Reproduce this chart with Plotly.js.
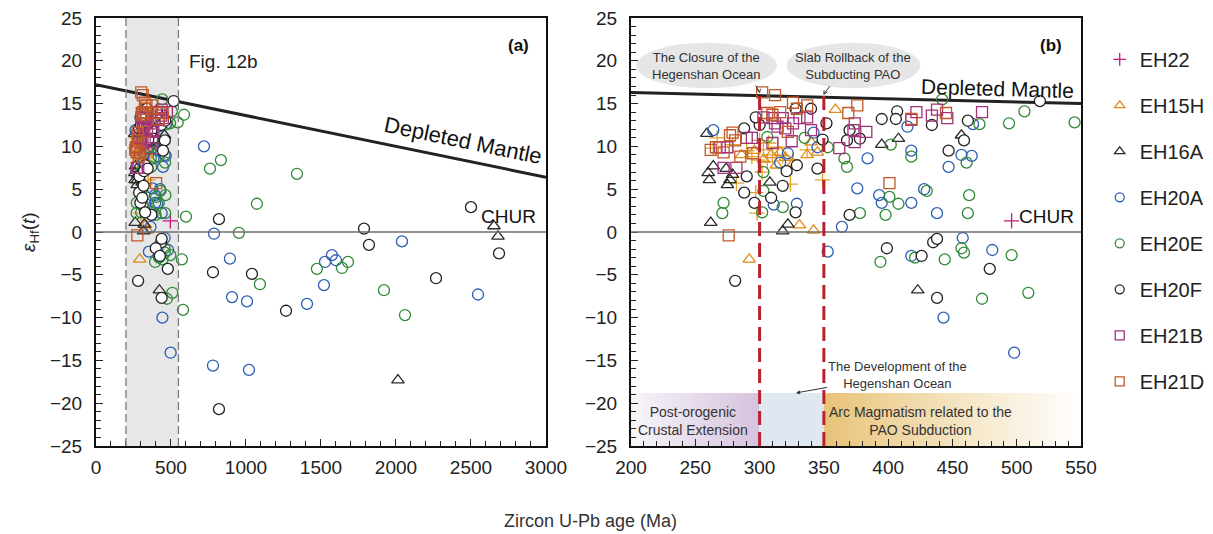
<!DOCTYPE html>
<html><head><meta charset="utf-8">
<script src="https://cdn.plot.ly/plotly-3.0.1.min.js"></script>
<style>body{margin:0;background:#fff}#chart{width:1213px;height:534px}</style>
</head><body><div id="chart"></div>
<script>
// ---------- data: zircon U-Pb age (Ma) and eHf(t) per sample ----------
const EH22_age = [496];
const EH22_eps = [1.3];

const EH15H_age = [359, 337, 345, 331, 342, 292, 296, 303, 309, 316, 320, 326, 340, 286, 313];
const EH15H_eps = [14.3, 9.0, 9.3, 0.8, 0.2, -3.2, 9.5, 8.5, 9.0, 9.3, 8.7, 8.0, 10.5, 9.0, 7.8];
// EH15H points drawn with a "+" glyph in the original figure
const EH15Hp_age = [267, 264, 279, 282, 294, 299, 303, 306, 310, 314, 307, 297, 298, 324, 349, 337, 326, 300, 302, 290, 318];
const EH15Hp_eps = [11.0, 9.8, 10.2, 5.7, 8.8, 8.4, 9.6, 8.2, 9.0, 9.9, 10.4, 4.6, 2.2, 5.6, 6.1, 9.6, 8.4, 10.7, 7.0, 9.5, 8.9];

const EH16A_age = [264, 260, 261, 274, 277, 275, 262, 308, 318, 322, 259, 395, 408, 457, 423, 279, 2653, 2680, 2013];
const EH16A_eps = [7.7, 6.9, 6.1, 7.4, 6.1, 5.5, 1.1, 5.8, 0.1, 0.9, 11.5, 10.2, 10.9, 11.3, -6.8, 6.7, 0.7, -0.5, -17.3];

const EH20A_age = [264, 415, 466, 384, 418, 457, 465, 447, 376, 393, 395, 418, 428, 438, 364, 458, 481, 418, 353, 443, 498, 316, 329, 311, 342, 322, 345,
  720, 787, 893, 907, 1007, 780, 1020, 1527, 1573, 1600, 1520, 1407, 2040, 2547];
const EH20A_eps = [11.9, 12.3, 12.6, 8.6, 9.5, 9.0, 8.9, 7.6, 5.1, 4.3, 3.4, 3.4, 5.0, 2.2, 0.6, -0.7, -2.1, -2.8, -2.3, -10.0, -14.1, 8.1, 3.3, 3.2, 11.6, 9.2, 9.9,
  10.0, -0.2, -3.1, -7.6, -8.1, -15.6, -16.1, -3.5, -2.7, -3.3, -6.2, -8.4, -1.1, -7.3];

const EH20E_age = [442, 506, 494, 545, 471, 402, 366, 368, 418, 461, 401, 408, 430, 463, 378, 398, 462, 457, 459, 394, 421, 444, 496, 473, 509, 272, 271, 303, 318, 303, 306, 335, 353, 302,
  587, 760, 833, 1340, 1073, 600, 953, 573, 1093, 1473, 1640, 1680, 1920, 580, 2060];
const EH20E_eps = [15.5, 14.1, 12.7, 12.8, 12.6, 10.2, 8.6, 7.6, 8.8, 8.1, 4.1, 3.3, 4.8, 4.3, 2.2, 2.0, 2.2, -1.9, -2.4, -3.5, -3.0, -3.2, -2.7, -7.8, -7.1, 3.4, 2.2, 4.8, 2.9, 7.0, 11.1, 11.0, 9.9, 2.3,
  13.7, 7.4, 8.4, 6.8, 3.3, 1.8, -0.1, -3.2, -6.1, -4.3, -4.2, -3.5, -6.8, -9.1, -9.7];

const EH20F_age = [518, 407, 395, 406, 434, 462, 370, 368, 378, 459, 447, 370, 435, 438, 399, 426, 479, 438, 288, 300, 328, 340, 352, 349, 290, 288, 296, 309, 318, 329, 321, 328, 345, 297, 281,
  820, 1787, 1820, 780, 1040, 1267, 820, 2500, 2687, 2267];
const EH20F_eps = [15.3, 14.1, 13.2, 13.2, 12.5, 13.0, 11.9, 10.7, 10.9, 10.7, 9.5, 2.0, -1.2, -0.8, -1.9, -2.8, -4.3, -7.7, 12.1, 12.5, 14.4, 14.4, 12.7, 10.8, 6.5, 4.6, 3.4, 4.0, 5.4, 7.8, 7.1, 2.3, 7.4, 13.4, -5.7,
  1.5, 0.4, -1.5, -4.7, -4.9, -9.2, -20.7, 2.9, -2.5, -5.4];

const EH21B_age = [473, 422, 438, 446, 418, 434, 374, 383, 374, 362, 269, 275, 290, 294, 272, 282, 310, 318, 326, 337, 340, 314, 320, 310, 325, 373, 303, 312, 331];
const EH21B_eps = [14.0, 14.0, 14.3, 13.3, 13.1, 13.6, 12.7, 11.7, 10.5, 9.8, 9.9, 9.9, 11.0, 11.0, 7.5, 7.5, 13.3, 13.3, 12.7, 13.4, 11.9, 12.3, 12.1, 10.4, 10.6, 11.9, 13.4, 12.7, 13.3];

const EH21D_age = [302, 312, 326, 337, 306, 316, 369, 281, 266, 262, 279, 285, 276, 310, 329, 295, 376, 445, 418, 401, 277, 272, 322];
const EH21D_eps = [16.3, 16.0, 15.1, 14.8, 13.9, 14.0, 13.9, 10.7, 9.9, 9.6, 11.6, 8.8, -0.4, 13.7, 14.4, 9.2, 14.8, 13.9, 13.2, 5.7, 11.3, 9.3, 11.7];

// Depleted mantle evolution line, read at the panel edges
const DMa_age = [0, 3000];
const DMa_eps = [17.2, 6.4];
const DMb_age = [200, 550];
const DMb_eps = [16.3, 15.0];

// Tectonic stage boundaries (Ma) for panel (b)
const stageBounds = [200, 300, 350, 550];
const stageLabels = ['Post-orogenic<br>Crustal Extension', 'Arc Magmatism related to the<br>PAO Subduction'];
const figBRange = [200, 550];

// ---------- styles ----------
const FONT = 'Liberation Sans, Arial, sans-serif';
const styles = {
  EH22:  {symbol: 'cross-thin-open', color: '#c4177f', size: 11},
  EH15H: {symbol: 'triangle-up-open', color: '#e08c1a', size: 11},
  EH16A: {symbol: 'triangle-up-open', color: '#2a2a2a', size: 11},
  EH20A: {symbol: 'circle-open', color: '#2c5db5', size: 11},
  EH20E: {symbol: 'circle-open', color: '#2f8a35', size: 11},
  EH20F: {symbol: 'circle', color: '#222222', size: 11, fill: '#ffffff'},
  EH21B: {symbol: 'square-open', color: '#a1327a', size: 11},
  EH21D: {symbol: 'square-open', color: '#c1582a', size: 11}
};
const series = [
  ['EH22', EH22_age, EH22_eps],
  ['EH15H', EH15H_age, EH15H_eps],
  ['EH16A', EH16A_age, EH16A_eps],
  ['EH20A', EH20A_age, EH20A_eps],
  ['EH20E', EH20E_age, EH20E_eps],
  ['EH20F', EH20F_age, EH20F_eps],
  ['EH21B', EH21B_age, EH21B_eps],
  ['EH21D', EH21D_age, EH21D_eps]
];

function markerOf(s, size) {
  const sz = size || s.size;
  if (s.fill) return {symbol: s.symbol, size: sz, color: s.fill, line: {color: s.color, width: 1.3}};
  return {symbol: s.symbol, size: sz, color: s.color, line: {width: 1.3}};
}

const data = [];
// stage bands (panel b)
const bandTop = -18.8, bandBot = -25;
data.push({type:'scatter', mode:'lines', xaxis:'x2', yaxis:'y2', showlegend:false, hoverinfo:'skip',
  x:[stageBounds[0], stageBounds[1], stageBounds[1], stageBounds[0], stageBounds[0]], y:[bandBot, bandBot, bandTop, bandTop, bandBot],
  fill:'toself', line:{width:0}, fillcolor:'#e2d8e8',
  fillgradient:{type:'horizontal', colorscale:[[0,'#f7f5fa'],[1,'#d6c2dd']]}});
data.push({type:'scatter', mode:'lines', xaxis:'x2', yaxis:'y2', showlegend:false, hoverinfo:'skip',
  x:[stageBounds[1], stageBounds[2], stageBounds[2], stageBounds[1], stageBounds[1]], y:[bandBot, bandBot, bandTop, bandTop, bandBot],
  fill:'toself', line:{width:0}, fillcolor:'#dfe7f1'});
data.push({type:'scatter', mode:'lines', xaxis:'x2', yaxis:'y2', showlegend:false, hoverinfo:'skip',
  x:[stageBounds[2], stageBounds[3], stageBounds[3], stageBounds[2], stageBounds[2]], y:[bandBot, bandBot, bandTop, bandTop, bandBot],
  fill:'toself', line:{width:0}, fillcolor:'#f0dcaa',
  fillgradient:{type:'horizontal', colorscale:[[0,'#e8c378'],[0.55,'#f5e6c6'],[1,'#ffffff']]}});

// depleted mantle lines
data.push({type:'scatter', mode:'lines', x:DMa_age, y:DMa_eps, xaxis:'x', yaxis:'y', showlegend:false, hoverinfo:'skip', line:{color:'#222', width:3}});
data.push({type:'scatter', mode:'lines', x:DMb_age, y:DMb_eps, xaxis:'x2', yaxis:'y2', showlegend:false, hoverinfo:'skip', line:{color:'#222', width:3}});

// sample markers, both panels
const plusStyle = {symbol:'cross-thin-open', color:'#e3a12a', size:11};
for (const [name, ages, eps] of series) {
  const s = styles[name];
  data.push({type:'scatter', mode:'markers', name, legendgroup:name, showlegend:false, x:ages, y:eps, xaxis:'x', yaxis:'y', marker:markerOf(s)});
  if (name === 'EH15H') {
    data.push({type:'scatter', mode:'markers', name, legendgroup:name, showlegend:false, x:EH15Hp_age, y:EH15Hp_eps, xaxis:'x', yaxis:'y', marker:markerOf(plusStyle)});
    data.push({type:'scatter', mode:'markers', name, legendgroup:name, showlegend:false, x:EH15Hp_age, y:EH15Hp_eps, xaxis:'x2', yaxis:'y2', marker:markerOf(plusStyle)});
  }
  data.push({type:'scatter', mode:'markers', name, legendgroup:name, showlegend:false, x:ages, y:eps, xaxis:'x2', yaxis:'y2', marker:markerOf(s)});
}
// legend entries (smaller glyphs, as in the original legend)
for (const [name] of series) {
  data.push({type:'scatter', mode:'markers', name, legendgroup:name, showlegend:true, x:[null], y:[null], xaxis:'x2', yaxis:'y2',
    marker:markerOf(styles[name], 9), hoverinfo:'skip'});
}

const tickFont = {family: FONT, size: 19, color: '#222'};
function xax(domain, range, dtick, minor) {
  return {domain, range, dtick, tick0: 0, ticks:'inside', ticklen:7, tickwidth:1.2, tickcolor:'#222',
    minor:{ticks:'inside', dtick:minor, ticklen:5, tickwidth:1, tickcolor:'#222'},
    showline:true, mirror:true, linecolor:'#111', linewidth:2, showgrid:false, zeroline:false, tickfont:tickFont, ticklabelstandoff:3};
}
function yax(anchor) {
  return {anchor, range:[-25,25], dtick:5, ticks:'inside', ticklen:7, tickwidth:1.2, tickcolor:'#222',
    minor:{ticks:'inside', dtick:1, ticklen:5, tickwidth:1, tickcolor:'#222'},
    showline:true, mirror:true, linecolor:'#111', linewidth:2, showgrid:false, zeroline:false, tickfont:tickFont, ticklabelstandoff:8};
}

const shapes = [
  // Fig. 12b window in panel (a)
  {type:'rect', xref:'x', yref:'y', x0:figBRange[0], x1:figBRange[1], y0:-25, y1:25, fillcolor:'#e7e7e7', line:{width:0}, layer:'below'},
  {type:'line', xref:'x', yref:'y', x0:figBRange[0], x1:figBRange[0], y0:-25, y1:25, line:{color:'#7a7a7a', width:1.3, dash:'8px,4px'}},
  {type:'line', xref:'x', yref:'y', x0:figBRange[1], x1:figBRange[1], y0:-25, y1:25, line:{color:'#7a7a7a', width:1.3, dash:'8px,4px'}},
  // CHUR
  {type:'line', xref:'x', yref:'y', x0:0, x1:3000, y0:0, y1:0, line:{color:'#6e6e6e', width:1.3}},
  {type:'line', xref:'x2', yref:'y2', x0:200, x1:550, y0:0, y1:0, line:{color:'#6e6e6e', width:1.3}},
  // label ellipses
  {type:'circle', xref:'x2', yref:'y2', x0:204, x1:313.5, y0:16.8, y1:22.1, fillcolor:'#e6e6e6', line:{width:0}, layer:'below'},
  {type:'circle', xref:'x2', yref:'y2', x0:321, x1:425, y0:16.8, y1:22.1, fillcolor:'#e6e6e6', line:{width:0}, layer:'below'},
  // stage boundaries
  {type:'line', xref:'x2', yref:'y2', x0:stageBounds[1], x1:stageBounds[1], y0:-25, y1:16.2, line:{color:'#b8222f', width:3, dash:'14px,7px'}},
  {type:'line', xref:'x2', yref:'y2', x0:stageBounds[2], x1:stageBounds[2], y0:-25, y1:16.0, line:{color:'#b8222f', width:3, dash:'14px,7px'}},
  // small leader arrows from the ellipses to the boundaries
  {type:'line', xref:'x2', yref:'y2', xsizemode:'pixel', ysizemode:'pixel', xanchor:stageBounds[1], yanchor:16.3, x0:-4, y0:7, x1:0, y1:0, line:{color:'#333', width:1}},
  {type:'path', xref:'x2', yref:'y2', xsizemode:'pixel', ysizemode:'pixel', xanchor:stageBounds[1], yanchor:16.3, path:'M -2.6 3.4 L 0 0 L 0.8 3.6', line:{color:'#333', width:1}},
  {type:'line', xref:'x2', yref:'y2', xsizemode:'pixel', ysizemode:'pixel', xanchor:stageBounds[2], yanchor:16.1, x0:6, y0:8, x1:0, y1:0, line:{color:'#333', width:1}},
  {type:'path', xref:'x2', yref:'y2', xsizemode:'pixel', ysizemode:'pixel', xanchor:stageBounds[2], yanchor:16.1, path:'M 0.2 4 L 0 0 L 3.4 2.2', line:{color:'#333', width:1}}
];

const small = {family: FONT, size: 13, color: '#333'};
const annotations = [
  {xref:'paper', yref:'paper', x:0.0247, y:0.5, xanchor:'center', yanchor:'middle', text:'<i>ε</i><sub>Hf</sub>(<i>t</i>)', textangle:-90, showarrow:false, font:{family:FONT, size:19, color:'#222'}},
  {xref:'paper', yref:'paper', x:0.4864, y:-0.175, xanchor:'center', yanchor:'middle', text:'Zircon U-Pb age (Ma)', showarrow:false, font:{family:FONT, size:18, color:'#333'}},
  {xref:'x', yref:'y', x:607, y:19.9, xanchor:'left', text:'Fig. 12b', showarrow:false, font:{family:FONT, size:19, color:'#222'}},
  {xref:'x', yref:'y', x:2900, y:21.8, xanchor:'right', text:'<b>(a)</b>', showarrow:false, font:{family:FONT, size:17, color:'#111'}},
  {xref:'x2', yref:'y2', x:527, y:21.8, text:'<b>(b)</b>', showarrow:false, font:{family:FONT, size:17, color:'#111'}},
  {xref:'x', yref:'y', x:2447, y:10.7, text:'Depleted Mantle', textangle:11.7, showarrow:false, font:{family:FONT, size:22, color:'#111'}},
  {xref:'x2', yref:'y2', x:485, y:16.8, text:'Depleted Mantle', textangle:1.6, showarrow:false, font:{family:FONT, size:21, color:'#111'}},
  {xref:'x', yref:'y', x:2747, y:1.8, text:'CHUR', showarrow:false, font:{family:FONT, size:19, color:'#111'}},
  {xref:'x2', yref:'y2', x:523, y:1.8, text:'CHUR', showarrow:false, font:{family:FONT, size:19, color:'#111'}},
  {xref:'x2', yref:'y2', x:258.5, y:19.4, text:'The Closure of the<br>Hegenshan Ocean', showarrow:false, font:small},
  {xref:'x2', yref:'y2', x:373, y:19.4, text:'Slab Rollback of the<br>Subducting PAO', showarrow:false, font:small},
  {xref:'x2', yref:'y2', x:328.3, y:-18.8, ax:102, ay:-18, text:'The Development of the<br>Hegenshan Ocean', showarrow:true, arrowhead:2, arrowsize:0.8, arrowwidth:1, arrowcolor:'#333', font:small},
  {xref:'x2', yref:'y2', x:248, y:-22.1, text:stageLabels[0], showarrow:false, font:{family:FONT, size:14, color:'#333'}},
  {xref:'x2', yref:'y2', x:425, y:-22.1, text:stageLabels[1], showarrow:false, font:{family:FONT, size:14, color:'#333'}}
];

const layout = {
  width:1213, height:534,
  margin:{l:0, r:0, t:18, b:88},
  paper_bgcolor:'#fff', plot_bgcolor:'rgba(0,0,0,0)',
  font:{family:FONT, color:'#222'},
  xaxis: Object.assign(xax([0.0791, 0.4501], [0, 3000], 500, 100), {anchor:'y'}),
  xaxis2: Object.assign(xax([0.5202, 0.8912], [200, 550], 50, 10), {anchor:'y2'}),
  yaxis: yax('x'),
  yaxis2: yax('x2'),
  showlegend:true,
  legend:{x:0.9066, xanchor:'left', y:0.949, yanchor:'top', tracegroupgap:17, traceorder:'grouped',
    font:{family:FONT, size:20, color:'#222'}, bgcolor:'rgba(0,0,0,0)'},
  shapes, annotations
};

Plotly.newPlot('chart', data, layout, {displayModeBar:false});
</script></body></html>
